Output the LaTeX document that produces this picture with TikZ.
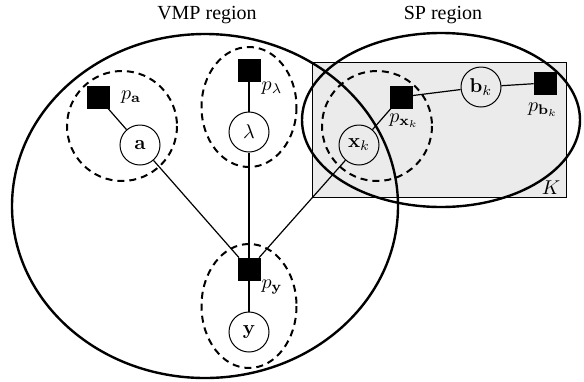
\documentclass[tikz,border=0pt]{standalone}
\usepackage[no-math]{fontspec}
\setmainfont{Liberation Serif}
\usepackage{amsmath}
\begin{document}
\begin{tikzpicture}[x=0.5pt,y=-0.5pt,
  fac/.style={draw,fill=black,minimum size=11pt,inner sep=0pt},
  var/.style={draw,circle,minimum size=20pt,inner sep=0pt,line width=0.5pt},
  edge/.style={line width=0.6pt},
  region/.style={line width=1.2pt},
  group/.style={line width=1pt,dash pattern=on 3.5pt off 2.5pt},
  lab/.style={inner sep=0pt}]
\useasboundingbox (0,0) rectangle (584,381);
% gray plate
\node[draw,fill=black!8,line width=0.5pt,minimum width=127pt,minimum height=67.5pt,inner sep=0pt] (plate) at (439,129.5) {};
\node[lab] (K) at (551,188) {$K$};
% region ellipses
\draw[region] (205,206) ellipse [x radius=193, y radius=172];
\draw[region] (441,120) ellipse [x radius=139, y radius=87];
\node[lab] (vmp) at (207,15) {VMP region};
\node[lab] (sp) at (443,15) {SP region};
% dashed groups
\draw[group] (122,126) circle [radius=55];
\draw[group] (249,107) ellipse [x radius=47.5, y radius=60];
\draw[group] (249,306) ellipse [x radius=47.5, y radius=62];
\draw[group] (377,126) circle [radius=55];
% nodes
\node[fac] (pa) at (98,97) {};
\node[var] (a) at (140,145) {$\mathbf{a}$};
\node[fac] (pl) at (249,70) {};
\node[var] (l) at (249,132) {$\lambda$};
\node[fac] (py) at (249,269) {};
\node[var] (y) at (249,332) {$\mathbf{y}$};
\node[fac] (px) at (401,97) {};
\node[var] (x) at (359,145) {$\mathbf{x}_k$};
\node[var] (b) at (481,87) {$\mathbf{b}_k$};
\node[fac] (pb) at (545,83) {};
% labels
\node[lab] (lpa) at (131,97) {$p_{\mathbf{a}}$};
\node[lab] (lpl) at (272,88) {$p_{\lambda}$};
\node[lab] (lpy) at (272,287) {$p_{\mathbf{y}}$};
\node[lab] (lpx) at (404,121) {$p_{\mathbf{x}_k}$};
\node[lab] (lpb) at (543,110) {$p_{\mathbf{b}_k}$};
% edges
\draw[edge] (pa) -- (a);
\draw[edge] (a) -- (py);
\draw[edge] (pl) -- (l);
\draw[edge] (l) -- (py);
\draw[edge] (x) -- (py);
\draw[edge] (px) -- (x);
\draw[edge] (px) -- (b);
\draw[edge] (b) -- (pb);
\draw[edge] (py) -- (y);
\end{tikzpicture}
\end{document}
